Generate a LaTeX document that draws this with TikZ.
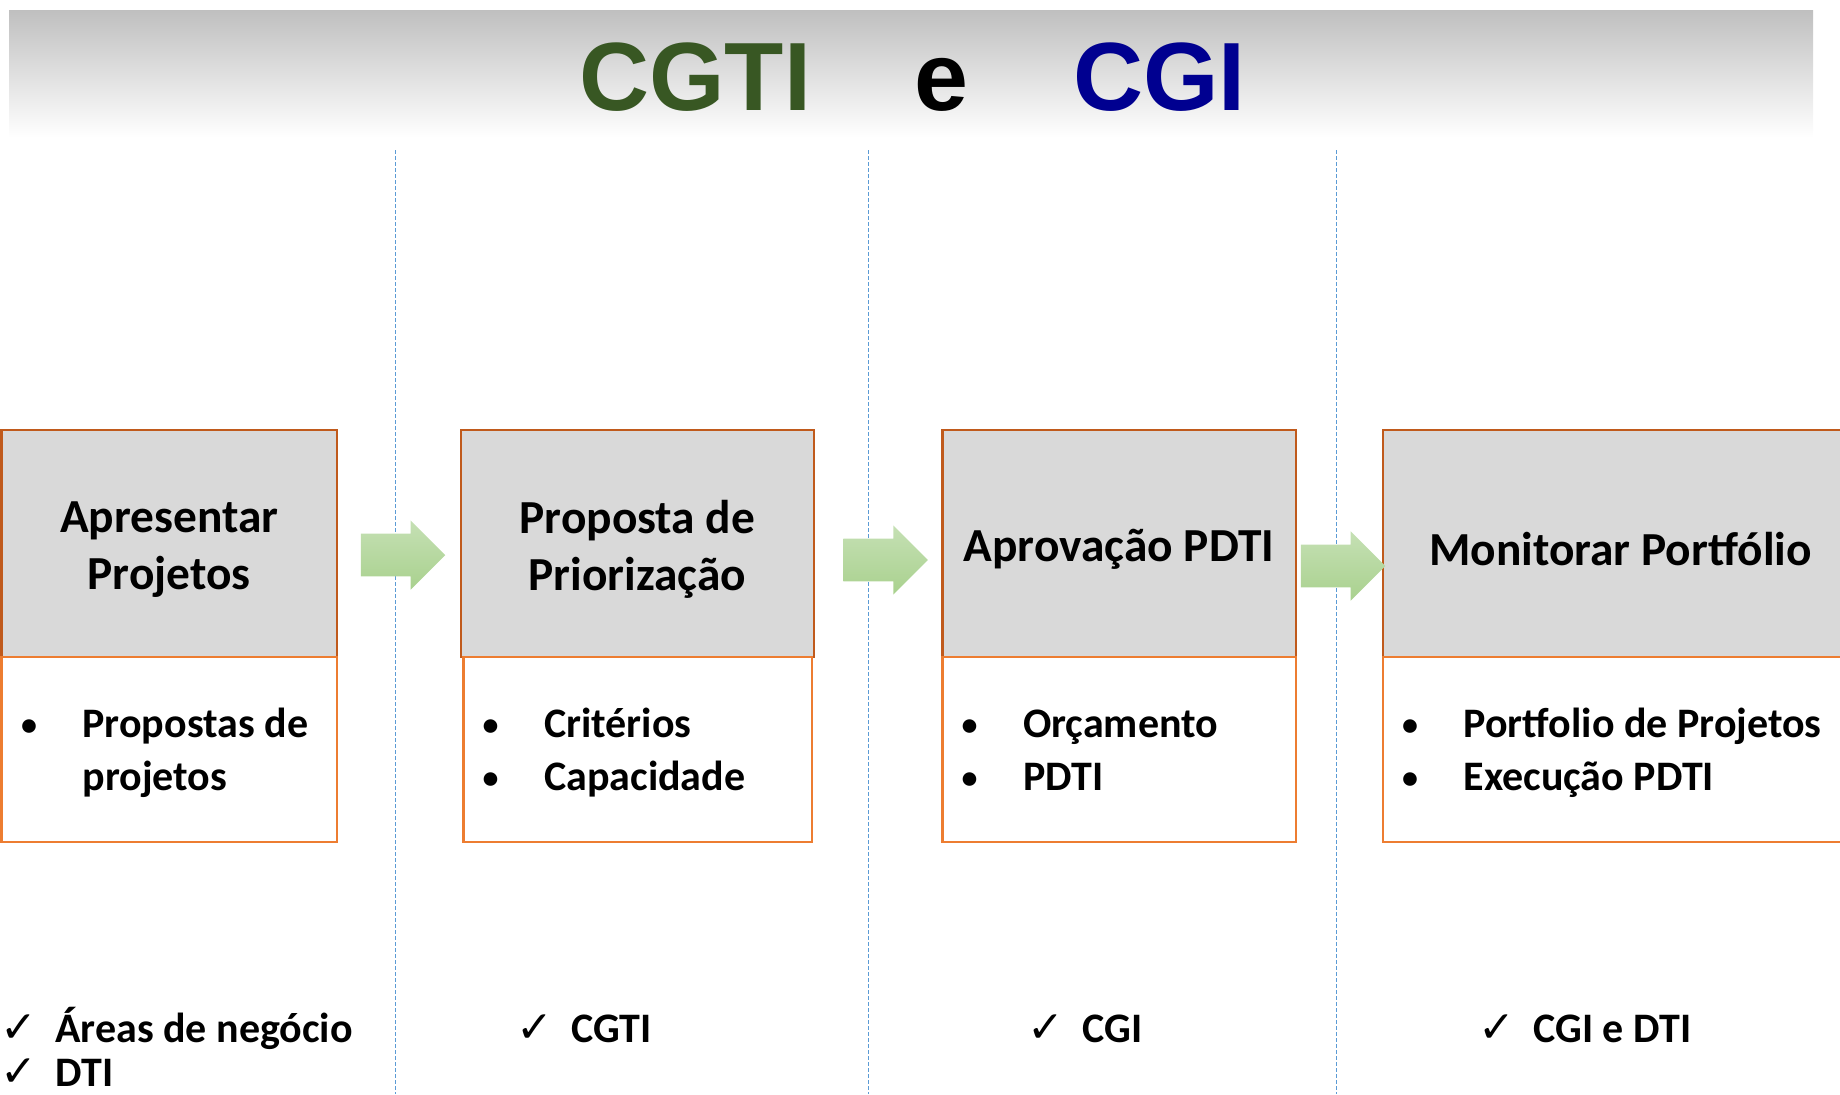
\documentclass[tikz,border=0pt]{standalone}
\usepackage{fontspec}
\setmainfont{Carlito}
\newfontfamily\headfont{Liberation Sans}
\newfontfamily\tickfont{DejaVu Sans}
\usetikzlibrary{shapes.arrows}

\definecolor{stagefill}{HTML}{D9D9D9}
\definecolor{stageline}{HTML}{C05A1C}
\definecolor{itemline}{HTML}{ED7D31}
\definecolor{sepline}{HTML}{5B9BD5}
\definecolor{cgtigreen}{HTML}{385723}
\definecolor{cginavy}{HTML}{000090}
\definecolor{arrowtop}{HTML}{C5E0B4}
\definecolor{arrowbot}{HTML}{A9D18E}

\newcommand{\tick}{\makebox[27.5pt][l]{\tickfont\fontsize{22}{22}\selectfont\smash{✓}}}
\newcommand{\bul}{\makebox[40.25pt][l]{\hspace*{13.5pt}\makebox[0pt]{\raisebox{1pt}{\fontsize{16}{16}\selectfont •}}}}

\begin{document}
\begin{tikzpicture}[x=0.5pt, y=-0.5pt,
  stage/.style={draw=stageline, fill=stagefill, line width=1.2pt, minimum height=113.5pt, inner sep=0pt},
  stagetext/.style={yshift=-3pt, inner sep=0pt, align=center, font=\fontsize{23.7}{28.5}\selectfont\bfseries},
  items/.style={draw=itemline, line width=1.2pt, minimum height=92.5pt, inner sep=0pt},
  blockarrow/.style={single arrow, shade, top color=arrowtop, bottom color=arrowbot, minimum height=42.25pt, minimum width=34.25pt, single arrow head extend=6.6pt, inner xsep=0pt, inner ysep=10.5pt},
  bullets/.style={anchor=base west, inner sep=0pt, font=\fontsize{21}{26.5}\selectfont\bfseries},
  ticks/.style={anchor=base west, inner sep=0pt, font=\fontsize{21}{23}\selectfont\bfseries}]
\useasboundingbox (0,0) rectangle (1840,1094);
\clip (0,0) rectangle (1840,1094);

% header band
\shade[top color=gray!50, bottom color=white] (9,10) rectangle (1813,137);
\node[anchor=base west, inner sep=0pt, font=\headfont\bfseries\fontsize{48.5}{52}\selectfont] (title) at (579,110) {\textcolor{cgtigreen}{CGTI}\hspace{51.5pt}e\hspace{52.5pt}\textcolor{cginavy}{CGI}};

% column separators
\foreach \x in {395.5,868.4,1336.5}
  \draw[sepline, line width=0.7pt, dash pattern=on 2pt off 1pt] (\x,150) -- (\x,1094);

% stages
\node[stage, minimum width=167.5pt] (s1) at (169.2,543.5) {};
\node[stage, minimum width=176.7pt] (s2) at (637.4,543.5) {};
\node[stage, minimum width=176.7pt] (s3) at (1119,543.5) {};
\node[stage, minimum width=237.5pt] (s4) at (1620.4,543.5) {};
\node[stagetext] (t1) at (s1) {Apresentar\\Projetos};
\node[stagetext] (t2) at (s2) {Proposta de\\Priorização};
\node[stagetext] (t3) at (s3) {Aprovação PDTI};
\node[stagetext] (t4) at (s4) {Monitorar Portfólio};

\node[items, minimum width=167.5pt] (b1) at (169.2,749.5) {};
\node[items, minimum width=174.2pt] (b2) at (637.5,749.5) {};
\node[items, minimum width=176.7pt] (b3) at (1119,749.5) {};
\node[items, minimum width=237.5pt] (b4) at (1620.4,749.5) {};

\node[blockarrow] (a1) at (392.3,555) {};
\node[blockarrow] (a2) at (874.9,560) {};
\node[blockarrow] (a3) at (1332.3,566) {};

% contents
\node[bullets] (l1) at (1.7,737) {\begin{tabular}[t]{@{}l@{}}\bul Propostas de\\\hspace*{40.25pt}projetos\end{tabular}};
\node[bullets] (l2) at (463.3,737) {\begin{tabular}[t]{@{}l@{}}\bul Critérios\\\bul Capacidade\end{tabular}};
\node[bullets] (l3) at (942.3,737) {\begin{tabular}[t]{@{}l@{}}\bul Orçamento\\\bul PDTI\end{tabular}};
\node[bullets] (l4) at (1382.7,737) {\begin{tabular}[t]{@{}l@{}}\bul Portfolio de Projetos\\\bul Execução PDTI\end{tabular}};

% who
\node[ticks] (c1) at (0,1042) {\tick Áreas de negócio};
\node[ticks] (c1b) at (0,1086) {\tick DTI};
\node[ticks] (c2) at (516,1042) {\tick CGTI};
\node[ticks] (c3) at (1027,1042) {\tick CGI};
\node[ticks] (c4) at (1478,1042) {\tick CGI e DTI};
\end{tikzpicture}
\end{document}
